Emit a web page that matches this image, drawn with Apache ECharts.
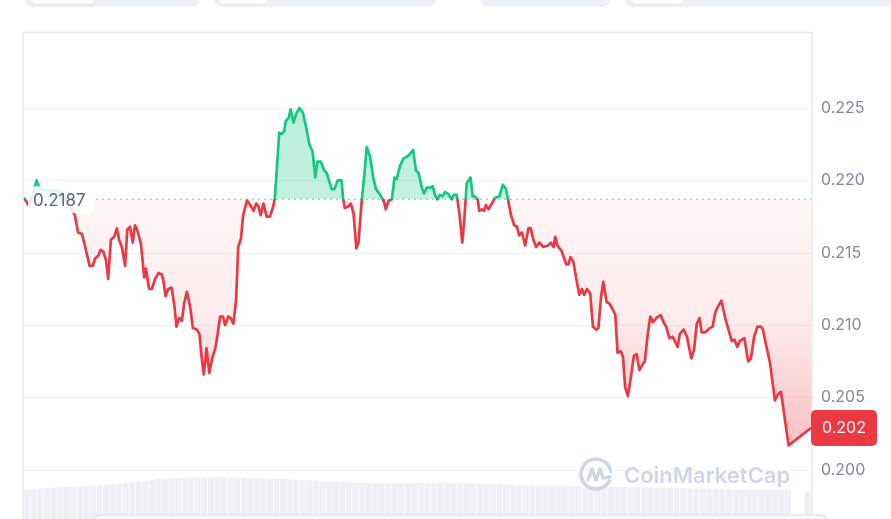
<!DOCTYPE html>
<html><head><meta charset="utf-8">
<script src="https://cdn.jsdelivr.net/npm/echarts@6/dist/echarts.min.js"></script>
<style>html,body{margin:0;padding:0;background:#fff}#c{width:891px;height:519px}</style>
</head><body><div id="c"></div>
<script>
// ---- data ----
const baseline = 0.2187;
const yTicks = [0.200, 0.205, 0.210, 0.215, 0.220, 0.225];
// minutes since start of the 24h window
const times = [0,8,14,23,29,48,66,78,93,99,106,112,120,126,130,136,140,145,150,154,159,165,170,174,179,185,189,194,199,203,207,214,220,223,229,234,240,246,252,255,259,264,270,275,279,284,289,293,298,304,309,316,321,325,329,334,339,345,350,354,359,364,368,374,378,383,388,392,397,401,408,414,420,425,429,433,438,444,450,456,459,464,467,472,476,479,484,488,493,498,504,510,516,522,528,533,537,543,549,554,563,568,574,581,584,587,593,598,603,608,612,618,623,627,633,639,644,650,655,659,662,667,673,678,682,688,694,703,712,717,722,728,732,737,743,748,752,756,761,766,770,775,778,783,786,792,797,802,806,810,817,821,825,830,833,838,842,845,850,856,862,870,876,882,886,891,897,902,906,911,917,923,927,932,937,943,950,959,964,969,972,976,984,992,996,1000,1005,1011,1016,1021,1025,1030,1036,1041,1047,1051,1056,1060,1066,1071,1077,1082,1086,1092,1096,1100,1105,1110,1116,1121,1126,1132,1136,1141,1146,1151,1157,1165,1170,1175,1181,1187,1196,1200,1207,1213,1221,1226,1231,1236,1240,1246,1255,1260,1265,1270,1276,1283,1289,1295,1300,1305,1310,1318,1325,1330,1336,1342,1348,1352,1358,1365,1374,1379,1385,1399,1440];
const prices = [0.2188,0.2183,0.2188,0.2200,0.2194,0.2193,0.2193,0.2186,0.2176,0.2164,0.2163,0.2154,0.2141,0.2141,0.2146,0.2148,0.2152,0.2151,0.2145,0.2132,0.2159,0.2161,0.2167,0.2159,0.2154,0.2141,0.2166,0.2168,0.2157,0.2169,0.2166,0.2156,0.2133,0.2139,0.2125,0.2125,0.2132,0.2136,0.2135,0.2131,0.2120,0.2125,0.2126,0.2114,0.2099,0.2105,0.2103,0.2115,0.2123,0.2113,0.2098,0.2097,0.2094,0.2078,0.2066,0.2084,0.2067,0.2078,0.2084,0.2093,0.2106,0.2106,0.2100,0.2106,0.2105,0.2101,0.2117,0.2154,0.2160,0.2176,0.2186,0.2183,0.2179,0.2184,0.2182,0.2176,0.2184,0.2175,0.2175,0.2182,0.2188,0.2216,0.2233,0.2232,0.2234,0.2241,0.2243,0.2249,0.2240,0.2246,0.2250,0.2247,0.2237,0.2225,0.2220,0.2202,0.2213,0.2213,0.2207,0.2205,0.2194,0.2194,0.2200,0.2200,0.2187,0.2181,0.2182,0.2184,0.2177,0.2153,0.2157,0.2186,0.2205,0.2223,0.2217,0.2202,0.2194,0.2191,0.2188,0.2185,0.2180,0.2186,0.2187,0.2202,0.2201,0.2210,0.2215,0.2217,0.2221,0.2207,0.2205,0.2195,0.2191,0.2195,0.2195,0.2196,0.2190,0.2187,0.2190,0.2189,0.2192,0.2191,0.2192,0.2187,0.2190,0.2190,0.2176,0.2157,0.2175,0.2198,0.2202,0.2189,0.2189,0.2187,0.2179,0.2180,0.2179,0.2183,0.2180,0.2184,0.2188,0.2189,0.2197,0.2194,0.2186,0.2176,0.2169,0.2168,0.2162,0.2164,0.2155,0.2167,0.2167,0.2159,0.2154,0.2157,0.2154,0.2155,0.2157,0.2154,0.2161,0.2155,0.2151,0.2142,0.2142,0.2147,0.2144,0.2131,0.2121,0.2125,0.2121,0.2125,0.2122,0.2099,0.2097,0.2098,0.2120,0.2130,0.2116,0.2115,0.2111,0.2107,0.2081,0.2082,0.2078,0.2057,0.2051,0.2063,0.2079,0.2080,0.2069,0.2073,0.2075,0.2093,0.2106,0.2102,0.2105,0.2107,0.2102,0.2099,0.2091,0.2092,0.2085,0.2094,0.2097,0.2092,0.2077,0.2083,0.2101,0.2105,0.2095,0.2095,0.2098,0.2099,0.2109,0.2113,0.2117,0.2105,0.2097,0.2089,0.2090,0.2085,0.2089,0.2091,0.2075,0.2077,0.2092,0.2099,0.2099,0.2097,0.2086,0.2074,0.2048,0.2052,0.2054,0.2017,0.2029];
// volume (relative units)
const volumes = [38,38.5,39,39.5,40,40.5,41,41.5,42,42.5,
  43,43.5,44,44.5,45,46,47,48,49,50,
  51,51.5,52,52.5,53,53.5,53.5,54,54,53.5,53.5,53,53,52.5,52.5,
  52,52,51.5,51,51,50.5,50,50,49.5,49,
  48.5,48,47.5,47,47,46.5,46.5,46,46,46,
  46,46,45.5,46,46,46.5,46,46,46.5,46,45.5,45.5,46,45.5,45,
  45,44.5,44.5,44,44,43.5,43.5,43,43,43,
  42.5,42.5,42,42,42,41.5,41.5,41.5,41,41,41,41,40.5,40.5,40.5,
  40,40,40,39.5,39.5,39.5,39,39,39,39,38.5,38.5,38.5,38,38,38,37.5,37.5,37,
  37,37,36.5,0,0,36];

const GREEN = '#16c784', RED = '#ea3943';
const FONT = 'Inter, "Noto Sans", sans-serif';

const series = times.map((t, i) => [t, prices[i]]);
const maxP = Math.max(...prices), minP = Math.min(...prices);
const tFirst = times[0], tLast = times[times.length - 1];

// area between price line and baseline, drawn through the axis scales
function renderArea(params, api) {
  if (params.dataIndex !== 0) return;
  const pts = series.map(d => api.coord(d));
  const b0 = api.coord([tFirst, baseline]);
  const b1 = api.coord([tLast, baseline]);
  const yTop = api.coord([tFirst, maxP])[1];
  const yBot = api.coord([tFirst, minP])[1];
  const off = (b0[1] - yTop) / (yBot - yTop);
  const grad = new echarts.graphic.LinearGradient(0, yTop, 0, yBot, [
    {offset: 0, color: 'rgba(22,199,132,0.30)'},
    {offset: off, color: 'rgba(22,199,132,0.25)'},
    {offset: off, color: 'rgba(234,57,67,0.045)'},
    {offset: off + (1 - off) * 0.5, color: 'rgba(234,57,67,0.10)'},
    {offset: 1, color: 'rgba(234,57,67,0.32)'}
  ], true);
  return {
    type: 'group',
    children: [
      {type: 'polygon', shape: {points: [b0].concat(pts, [b1])}, style: {fill: grad}},
      {type: 'line', shape: {x1: b0[0], y1: b0[1], x2: b1[0], y2: b1[1]},
       style: {stroke: '#a3acbb', lineWidth: 1, lineDash: [2, 4]}}
    ]
  };
}

const chart = echarts.init(document.getElementById('c'), null, {renderer: 'canvas'});
const option = {
  animation: false,
  backgroundColor: '#fff',
  grid: [
    {left: 24, right: 80, top: 35.6, bottom: 49},
    {left: 24, right: 80, top: 472, bottom: 0}
  ],
  xAxis: [
    {type: 'value', gridIndex: 0, min: 0, max: 1440, show: false},
    {type: 'category', gridIndex: 1, data: volumes.map((v, i) => i), show: false}
  ],
  yAxis: [
    {type: 'value', gridIndex: 0, position: 'right', min: 0.200, max: 0.230, interval: 0.005,
     axisLine: {show: false}, axisTick: {show: false},
     axisLabel: {margin: 10, color: '#808a9d', fontSize: 16, fontFamily: FONT, showMaxLabel: false,
       formatter: v => yTicks.some(t => Math.abs(t - v) < 1e-6) ? v.toFixed(3) : ''},
     splitLine: {show: true, showMaxLine: false, lineStyle: {color: '#eff1f4', width: 1}}},
    {type: 'value', gridIndex: 1, min: 0, max: 60, show: false}
  ],
  visualMap: {
    show: false, type: 'piecewise', dimension: 1, seriesIndex: 0,
    pieces: [{gt: 0.19, lte: baseline, color: RED}, {gt: baseline, lte: 0.24, color: GREEN}]
  },
  series: [
    {
      type: 'line', xAxisIndex: 0, yAxisIndex: 0, data: series, symbol: 'none',
      lineStyle: {width: 2.7, join: 'round'}, z: 4
    },
    {
      type: 'custom', coordinateSystem: 'cartesian2d', xAxisIndex: 0, yAxisIndex: 0,
      data: [[tFirst, baseline]], renderItem: renderArea, silent: true, z: 2, clip: true
    },
    {
      type: 'bar', xAxisIndex: 1, yAxisIndex: 1, data: volumes, barCategoryGap: '8%',
      itemStyle: {color: '#eef0f6'}, silent: true, z: 1
    }
  ]
};
chart.setOption(option);

const yBase = chart.convertToPixel({xAxisIndex: 0, yAxisIndex: 0}, [0, baseline])[1];
const pl = chart.convertToPixel({xAxisIndex: 0, yAxisIndex: 0}, series[series.length - 1]);
const lastTxt = (Math.floor(prices[prices.length - 1] * 1000) / 1000).toFixed(3);

const wmX = 596, wmY = 474, wmC = '#cfd6e4';
chart.setOption({
  graphic: [
    {type: 'rect', shape: {x: 25, y: -14, width: 175, height: 21, r: 8}, style: {fill: '#eff2f5'}, z: 0},
    {type: 'rect', shape: {x: 30, y: -14, width: 65, height: 18, r: 6}, style: {fill: '#fff', shadowBlur: 3, shadowColor: 'rgba(0,0,0,0.12)'}, z: 1},
    {type: 'rect', shape: {x: 214, y: -14, width: 222, height: 21, r: 8}, style: {fill: '#eff2f5'}, z: 0},
    {type: 'rect', shape: {x: 218, y: -14, width: 51, height: 18, r: 6}, style: {fill: '#fff', shadowBlur: 3, shadowColor: 'rgba(0,0,0,0.12)'}, z: 1},
    {type: 'rect', shape: {x: 480, y: -14, width: 130, height: 21, r: 8}, style: {fill: '#eff2f5'}, z: 0},
    {type: 'rect', shape: {x: 625, y: -14, width: 280, height: 21, r: 8}, style: {fill: '#eff2f5'}, z: 0},
    {type: 'rect', shape: {x: 630, y: -14, width: 55, height: 18, r: 6}, style: {fill: '#fff', shadowBlur: 3, shadowColor: 'rgba(0,0,0,0.12)'}, z: 1},
    {type: 'rect', shape: {x: 23, y: 32.5, width: 789, height: 520}, style: {fill: 'none', stroke: '#e6e9ee', lineWidth: 1.5}, z: 5},
    {type: 'rect', shape: {x: 94, y: 515, width: 733, height: 20, r: 6}, style: {fill: '#f8f9fe', stroke: '#dfe4f6', lineWidth: 1.5}, z: 6},
    {type: 'arc', shape: {cx: wmX, cy: wmY, r: 15, startAngle: 0.15 * Math.PI, endAngle: 1.95 * Math.PI, clockwise: true},
     style: {stroke: wmC, lineWidth: 3.5, fill: 'none', lineCap: 'round'}, z: 7},
    {type: 'polyline', shape: {points: [[wmX - 8, wmY + 6], [wmX - 4, wmY - 5], [wmX, wmY + 6], [wmX + 4, wmY - 5], [wmX + 7, wmY + 4], [wmX + 14, wmY + 3]]},
     style: {stroke: wmC, lineWidth: 3.5, fill: 'none', lineCap: 'round', lineJoin: 'round'}, z: 7},
    {type: 'text', x: 624, y: wmY + 2, style: {text: 'CoinMarketCap', fill: wmC, font: '600 22px ' + FONT, textVerticalAlign: 'middle', textAlign: 'left'}, z: 7},
    {type: 'rect', shape: {x: 28, y: yBase - 13, width: 66, height: 27, r: 6}, style: {fill: 'rgba(255,255,255,0.85)'}, z: 10},
    {type: 'text', x: 33, y: yBase + 2, style: {text: baseline.toFixed(4), fill: '#58667e', font: '17px ' + FONT, textVerticalAlign: 'middle', textAlign: 'left'}, z: 11},
    {type: 'rect', shape: {x: 811, y: pl[1] - 18, width: 66, height: 36, r: 5}, style: {fill: RED}, z: 10},
    {type: 'text', x: 844, y: pl[1], style: {text: lastTxt, fill: '#fff', font: '16px ' + FONT, textVerticalAlign: 'middle', textAlign: 'center'}, z: 11}
  ]
});
</script>
</body></html>
